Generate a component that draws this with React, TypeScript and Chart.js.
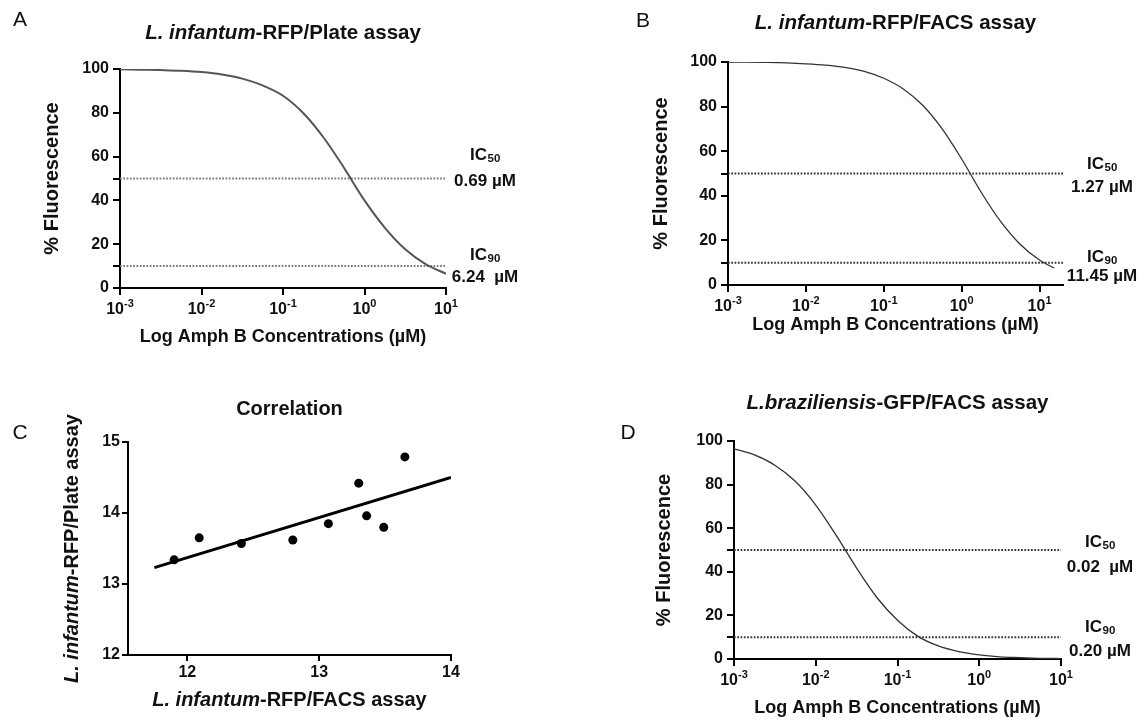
import React, { useEffect, useRef } from 'react';
import { Chart, registerables } from 'chart.js';

Chart.register(...registerables);

const FONT = '"Liberation Sans", Arial, Helvetica, sans-serif';
const INK = '#111';

// ---------------- data ----------------
const concA = [0.001, 0.00178, 0.00316, 0.00562, 0.01, 0.0178, 0.0316, 0.0562, 0.1, 0.178, 0.316, 0.562, 1, 1.78, 3.16, 5.62, 10];
const fluorA = [99.9, 99.7, 99.5, 99.2, 98.6, 97.5, 95.6, 92.5, 87.8, 79.8, 68.6, 54.8, 40.0, 27.5, 17.7, 10.9, 6.5];

const concB = [0.001, 0.00178, 0.00316, 0.00562, 0.01, 0.0178, 0.0316, 0.0562, 0.1, 0.178, 0.316, 0.562, 1, 1.78, 3.16, 5.62, 10, 15.4];
const fluorB = [99.9, 99.9, 99.8, 99.6, 99.2, 98.6, 97.6, 95.8, 92.7, 87.9, 80.6, 70.0, 56.5, 41.6, 28.5, 18.3, 11.2, 7.6];

const concD = [0.001, 0.00178, 0.00316, 0.00562, 0.01, 0.0178, 0.0316, 0.0562, 0.1, 0.178, 0.316, 0.562, 1, 1.78, 3.16, 5.62, 10];
const fluorD = [96.4, 93.6, 88.9, 81.5, 70.6, 56.7, 41.7, 28.1, 17.8, 10.4, 6.0, 3.4, 1.9, 1.0, 0.6, 0.3, 0.2];

const corrFacs = [11.9, 12.09, 12.41, 12.8, 13.07, 13.3, 13.36, 13.49, 13.65];
const corrPlate = [13.34, 13.65, 13.57, 13.62, 13.85, 14.42, 13.96, 13.8, 14.79];
const fitFacs = [11.75, 14.0];
const fitPlate = [13.23, 14.5];

const icLevels = [50, 10];
const icNames = ['50', '90'];
const icTextA = ['0.69 µM', '6.24  µM'];
const icTextB = ['1.27 µM', '11.45 µM'];
const icTextD = ['0.02  µM', '0.20 µM'];

const logTicks = [0.001, 0.01, 0.1, 1, 10];
const logTickExp = ['-3', '-2', '-1', '0', '1'];
const pctTicks = [0, 10, 20, 40, 50, 60, 80, 100];
const pctLabelled = [0, 20, 40, 60, 80, 100];
const corrXTicks = [12, 13, 14];
const corrYTicks = [12, 13, 14, 15];

type Seg = { t: string; it?: boolean };
const titleA: Seg[] = [{ t: 'L. infantum', it: true }, { t: '-RFP/Plate assay' }];
const titleB: Seg[] = [{ t: 'L. infantum', it: true }, { t: '-RFP/FACS assay' }];
const titleD: Seg[] = [{ t: 'L.braziliensis', it: true }, { t: '-GFP/FACS assay' }];
const titleC: Seg[] = [{ t: 'Correlation' }];
const corrXTitle: Seg[] = [{ t: 'L. infantum', it: true }, { t: '-RFP/FACS assay' }];
const corrYTitle: Seg[] = [{ t: 'L. infantum', it: true }, { t: '-RFP/Plate assay' }];
const doseXTitle = 'Log Amph B Concentrations (µM)';
const doseYTitle = '% Fluorescence';

// ---------------- helpers ----------------
type Box = { x: number; y: number; w: number; h: number };
type Area = { l: number; t: number; r: number; b: number };

const TITLE_SIZE = 20.5;
const X_TITLE = 18;
const Y_TITLE = 20;
const TICK_SIZE = 16;
const IC_SIZE = 17;

function richText(ctx: CanvasRenderingContext2D, segs: Seg[], x: number, y: number, size: number, rotate = false) {
  ctx.save();
  ctx.translate(x, y);
  if (rotate) ctx.rotate(-Math.PI / 2);
  const fonts = segs.map((s) => `${s.it ? 'italic ' : ''}bold ${size}px ${FONT}`);
  let total = 0;
  const widths = segs.map((s, k) => {
    ctx.font = fonts[k];
    const w = ctx.measureText(s.t).width;
    total += w;
    return w;
  });
  let cx = -total / 2;
  ctx.textBaseline = 'middle';
  ctx.textAlign = 'left';
  ctx.fillStyle = INK;
  segs.forEach((s, k) => {
    ctx.font = fonts[k];
    ctx.fillText(s.t, cx, 0);
    cx += widths[k];
  });
  ctx.restore();
}

function drawLetter(ctx: CanvasRenderingContext2D, letter: string, x: number, y: number) {
  ctx.save();
  ctx.font = `21px ${FONT}`;
  ctx.fillStyle = INK;
  ctx.textAlign = 'center';
  ctx.textBaseline = 'middle';
  ctx.fillText(letter, x, y);
  ctx.restore();
}

function drawSubLabel(ctx: CanvasRenderingContext2D, main: string, sub: string, x: number, y: number) {
  ctx.save();
  ctx.fillStyle = INK;
  ctx.textBaseline = 'middle';
  ctx.textAlign = 'left';
  ctx.font = `bold ${IC_SIZE}px ${FONT}`;
  const w1 = ctx.measureText(main).width;
  ctx.font = `bold 11.5px ${FONT}`;
  const w2 = ctx.measureText(sub).width;
  const x0 = x - (w1 + w2) / 2;
  ctx.font = `bold ${IC_SIZE}px ${FONT}`;
  ctx.fillText(main, x0, y);
  ctx.font = `bold 11.5px ${FONT}`;
  ctx.fillText(sub, x0 + w1 + 0.5, y + 4);
  ctx.restore();
}

function drawPowerLabels(chart: any, y: number) {
  const ctx: CanvasRenderingContext2D = chart.ctx;
  const xs = chart.scales.x;
  logTicks.forEach((v, i) => {
    const px = xs.getPixelForValue(v);
    ctx.save();
    ctx.fillStyle = INK;
    ctx.textBaseline = 'middle';
    ctx.textAlign = 'left';
    ctx.font = `bold ${TICK_SIZE}px ${FONT}`;
    const w1 = ctx.measureText('10').width;
    ctx.font = `bold 11px ${FONT}`;
    const w2 = ctx.measureText(logTickExp[i]).width;
    const x0 = px - (w1 + w2) / 2;
    ctx.font = `bold ${TICK_SIZE}px ${FONT}`;
    ctx.fillText('10', x0, y);
    ctx.font = `bold 11px ${FONT}`;
    ctx.fillText(logTickExp[i], x0 + w1, y - 6);
    ctx.restore();
  });
}

interface DoseSpec {
  box: Box;
  area: Area;
  xMax: number;
  conc: number[];
  fluor: number[];
  curveColor: string;
  curveWidth: number;
  dotColor: string;
  letter: string;
  letterPos: [number, number];
  title: Seg[];
  titleY: number;
  yTitleX: number;
  xTitleY: number;
  icText: string[];
  icX: number;
  icDy: [number, number][];
}

function doseConfig(s: DoseSpec): any {
  const yLh = Y_TITLE * 1.2;
  const xLh = X_TITLE * 1.2;
  const yLeft = s.yTitleX - yLh / 2;
  const yW = s.area.l - yLeft;
  const xH = s.xTitleY + xLh / 2 - s.area.b;
  const padding = {
    left: yLeft - s.box.x,
    top: s.area.t - s.box.y,
    right: s.box.x + s.box.w - s.area.r,
    bottom: s.box.y + s.box.h - s.area.b - xH,
  };
  const ox = s.box.x;
  const oy = s.box.y;
  const deco = {
    id: 'deco',
    afterDraw(chart: any) {
      const ctx = chart.ctx as CanvasRenderingContext2D;
      const ca = chart.chartArea;
      drawLetter(ctx, s.letter, s.letterPos[0] - ox, s.letterPos[1] - oy);
      richText(ctx, s.title, (ca.left + ca.right) / 2, s.titleY - oy, TITLE_SIZE);
      drawPowerLabels(chart, ca.bottom + 22);
      const ys = chart.scales.y;
      icLevels.forEach((lv, k) => {
        const py = ys.getPixelForValue(lv);
        drawSubLabel(ctx, 'IC', icNames[k], s.icX - ox, py + s.icDy[k][0]);
        richText(ctx, [{ t: s.icText[k] }], s.icX - ox, py + s.icDy[k][1], IC_SIZE);
      });
    },
  };
  const axisCommon = {
    border: { display: true, color: '#000', width: 2 },
    grid: { display: true, drawOnChartArea: false, drawTicks: true, tickLength: 7, color: '#000', lineWidth: 2 },
  };
  return {
    type: 'line',
    data: {
      datasets: [
        {
          data: s.conc.map((c, i) => ({ x: c, y: s.fluor[i] })),
          borderColor: s.curveColor,
          borderWidth: s.curveWidth,
          pointRadius: 0,
          cubicInterpolationMode: 'monotone',
          fill: false,
        },
        ...icLevels.map((lv) => ({
          data: [
            { x: logTicks[0], y: lv },
            { x: s.xMax, y: lv },
          ],
          borderColor: s.dotColor,
          borderWidth: 2,
          borderDash: [1.7, 1.6],
          pointRadius: 0,
          fill: false,
        })),
      ],
    },
    options: {
      responsive: false,
      animation: false,
      devicePixelRatio: 1,
      events: [],
      layout: { padding },
      plugins: { legend: { display: false }, tooltip: { enabled: false } },
      scales: {
        x: {
          type: 'logarithmic',
          position: 'bottom',
          min: logTicks[0],
          max: s.xMax,
          ...axisCommon,
          ticks: { display: false },
          afterBuildTicks: (sc: any) => {
            sc.ticks = logTicks.map((v) => ({ value: v }));
          },
          afterFit: (sc: any) => {
            sc.height = xH;
          },
          title: { display: true, text: doseXTitle, color: INK, padding: 0, font: { family: FONT, size: X_TITLE, weight: 'bold' } },
        },
        y: {
          type: 'linear',
          position: 'left',
          min: 0,
          max: 100,
          ...axisCommon,
          ticks: {
            color: INK,
            padding: 4,
            font: { family: FONT, size: TICK_SIZE, weight: 'bold' },
            callback: (v: number) => (pctLabelled.includes(v) ? String(v) : ''),
          },
          afterBuildTicks: (sc: any) => {
            sc.ticks = pctTicks.map((v) => ({ value: v }));
          },
          afterFit: (sc: any) => {
            sc.width = yW;
          },
          title: { display: true, text: doseYTitle, color: INK, padding: 0, font: { family: FONT, size: Y_TITLE, weight: 'bold' } },
        },
      },
    },
    plugins: [deco],
  };
}

const panelA: DoseSpec = {
  box: { x: 0, y: 0, w: 573, h: 360 },
  area: { l: 120, t: 69, r: 446, b: 288 },
  xMax: 10,
  conc: concA,
  fluor: fluorA,
  curveColor: '#555',
  curveWidth: 2,
  dotColor: '#777',
  letter: 'A',
  letterPos: [20, 20],
  title: titleA,
  titleY: 33,
  yTitleX: 52,
  xTitleY: 337,
  icText: icTextA,
  icX: 485,
  icDy: [
    [-23.5, 2.5],
    [-11, 11],
  ],
};

const panelB: DoseSpec = {
  box: { x: 573, y: 0, w: 573, h: 360 },
  area: { l: 728, t: 62, r: 1063, b: 285 },
  xMax: 20,
  conc: concB,
  fluor: fluorB,
  curveColor: '#333',
  curveWidth: 1.3,
  dotColor: '#333',
  letter: 'B',
  letterPos: [643, 21],
  title: titleB,
  titleY: 23,
  yTitleX: 661,
  xTitleY: 325,
  icText: icTextB,
  icX: 1102,
  icDy: [
    [-9.5, 13.5],
    [-5.7, 13.3],
  ],
};

const panelD: DoseSpec = {
  box: { x: 573, y: 360, w: 573, h: 360 },
  area: { l: 734, t: 441, r: 1061, b: 659 },
  xMax: 10,
  conc: concD,
  fluor: fluorD,
  curveColor: '#333',
  curveWidth: 1.3,
  dotColor: '#333',
  letter: 'D',
  letterPos: [628, 433],
  title: titleD,
  titleY: 403,
  yTitleX: 664,
  xTitleY: 708,
  icText: icTextD,
  icX: 1100,
  icDy: [
    [-8, 17],
    [-10, 14],
  ],
};

const boxC: Box = { x: 0, y: 360, w: 573, h: 360 };
const areaC: Area = { l: 128, t: 442, r: 451, b: 655 };

function corrConfig(): any {
  const yW = 40;
  const xH = 30;
  const padding = {
    left: areaC.l - yW - boxC.x,
    top: areaC.t - boxC.y,
    right: boxC.x + boxC.w - areaC.r,
    bottom: boxC.y + boxC.h - areaC.b - xH,
  };
  const ox = boxC.x;
  const oy = boxC.y;
  const deco = {
    id: 'decoC',
    afterDraw(chart: any) {
      const ctx = chart.ctx as CanvasRenderingContext2D;
      const ca = chart.chartArea;
      const cx = (ca.left + ca.right) / 2;
      drawLetter(ctx, 'C', 20 - ox, 433 - oy);
      richText(ctx, titleC, cx, 409 - oy, 20);
      richText(ctx, corrXTitle, cx, ca.bottom + 45, 20);
      richText(ctx, corrYTitle, ca.left - 56, (ca.top + ca.bottom) / 2, 20, true);
    },
  };
  const axisCommon = {
    border: { display: true, color: '#000', width: 2 },
    grid: { display: true, drawOnChartArea: false, drawTicks: true, tickLength: 6, color: '#000', lineWidth: 2 },
  };
  return {
    type: 'scatter',
    data: {
      datasets: [
        {
          data: corrFacs.map((x, i) => ({ x, y: corrPlate[i] })),
          backgroundColor: '#000',
          borderColor: '#000',
          pointRadius: 4.5,
          pointBorderWidth: 0,
          showLine: false,
        },
        {
          data: fitFacs.map((x, i) => ({ x, y: fitPlate[i] })),
          borderColor: '#000',
          borderWidth: 3,
          pointRadius: 0,
          showLine: true,
          fill: false,
        },
      ],
    },
    options: {
      responsive: false,
      animation: false,
      devicePixelRatio: 1,
      events: [],
      layout: { padding },
      plugins: { legend: { display: false }, tooltip: { enabled: false } },
      scales: {
        x: {
          type: 'linear',
          position: 'bottom',
          min: 11.55,
          max: 14,
          ...axisCommon,
          ticks: { color: INK, padding: 2, font: { family: FONT, size: TICK_SIZE, weight: 'bold' } },
          afterBuildTicks: (sc: any) => {
            sc.ticks = corrXTicks.map((v) => ({ value: v }));
          },
          afterFit: (sc: any) => {
            sc.height = xH;
          },
        },
        y: {
          type: 'linear',
          position: 'left',
          min: 12,
          max: 15,
          ...axisCommon,
          ticks: { color: INK, padding: 2, font: { family: FONT, size: TICK_SIZE, weight: 'bold' } },
          afterBuildTicks: (sc: any) => {
            sc.ticks = corrYTicks.map((v) => ({ value: v }));
          },
          afterFit: (sc: any) => {
            sc.width = yW;
          },
        },
      },
    },
    plugins: [deco],
  };
}

function ChartPanel({ box, make }: { box: Box; make: () => any }) {
  const ref = useRef<HTMLCanvasElement>(null);
  useEffect(() => {
    const chart = new Chart(ref.current as HTMLCanvasElement, make());
    return () => chart.destroy();
  }, []);
  return (
    <canvas
      ref={ref}
      width={box.w}
      height={box.h}
      style={{ position: 'absolute', left: box.x, top: box.y, width: box.w, height: box.h }}
    />
  );
}

export default function App() {
  return (
    <div style={{ position: 'absolute', left: 0, top: 0, width: 1146, height: 720, background: '#fff', overflow: 'hidden' }}>
      <ChartPanel box={panelA.box} make={() => doseConfig(panelA)} />
      <ChartPanel box={panelB.box} make={() => doseConfig(panelB)} />
      <ChartPanel box={boxC} make={corrConfig} />
      <ChartPanel box={panelD.box} make={() => doseConfig(panelD)} />
    </div>
  );
}
